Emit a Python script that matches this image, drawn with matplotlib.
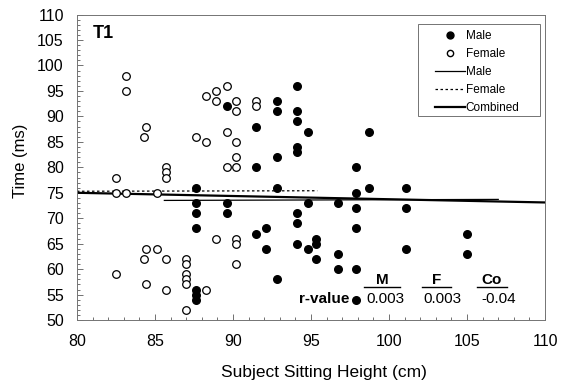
"""Reaction time vs subject sitting height (T1), male/female scatter with fits."""

import matplotlib

matplotlib.use("Agg")
import matplotlib.pyplot as plt
from matplotlib.lines import Line2D
from matplotlib.patches import Rectangle
from matplotlib.ticker import MultipleLocator

plt.rcParams["font.family"] = ["Liberation Sans", "DejaVu Sans"]

# data
male_height = [87.6, 87.6, 87.6, 87.6, 87.6, 87.6, 87.6,
               89.6, 89.6, 89.6,
               91.5, 91.5, 91.5,
               92.1, 92.1,
               92.8, 92.8, 92.8, 92.8, 92.8,
               94.1, 94.1, 94.1, 94.1, 94.1, 94.1, 94.1, 94.1,
               94.8, 94.8, 94.8,
               95.3, 95.3, 95.3,
               96.7, 96.7, 96.7,
               97.9, 97.9, 97.9, 97.9, 97.9, 97.9,
               98.7, 98.7,
               101.1, 101.1, 101.1,
               105.0, 105.0]
male_time = [76, 73, 71, 68, 56, 55, 54,
             92, 73, 71,
             88, 80, 67,
             68, 64,
             93, 91, 82, 76, 58,
             96, 91, 89, 84, 83, 71, 69, 65,
             87, 73, 64,
             66, 65, 62,
             73, 63, 60,
             80, 75, 72, 68, 60, 54,
             87, 76,
             76, 72, 64,
             67, 63]

female_height = [82.5, 82.5, 82.5,
                 83.15, 83.15, 83.15,
                 84.3, 84.3,
                 84.4, 84.4, 84.4,
                 85.1, 85.1,
                 85.7, 85.7, 85.7, 85.7, 85.7,
                 87.0, 87.0, 87.0, 87.0, 87.0, 87.0,
                 87.6,
                 88.3, 88.3, 88.3,
                 88.9, 88.9, 88.9,
                 89.6, 89.6, 89.6,
                 90.2, 90.2, 90.2, 90.2, 90.2, 90.2, 90.2, 90.2,
                 91.5, 91.5]
female_time = [78, 75, 59,
               98, 95, 75,
               86, 62,
               88, 64, 57,
               75, 64,
               80, 79, 78, 62, 56,
               62, 61, 59, 58, 57, 52,
               86,
               94, 85, 56,
               95, 93, 66,
               96, 87, 80,
               93, 91, 85, 82, 80, 66, 65, 61,
               93, 92]

# regression line end points (x range, fitted y)
male_fit_x = [85.6, 107.0]
male_fit_y = [73.5, 73.7]
female_fit_x = [80.0, 95.4]
female_fit_y = [75.3, 75.4]
comb_fit_x = [80.0, 110.0]
comb_fit_y = [75.0, 73.1]

r_labels = ["M", "F", "Co"]
r_values = ["0.003", "0.003", "-0.04"]
r_label_x = [99.55, 103.05, 106.6]
r_value_x = [99.75, 103.45, 107.0]


def main():
    fig = plt.figure(figsize=(5.66, 3.82), dpi=100)
    ax = fig.add_axes([0.136, 0.162, 0.827, 0.800])

    ax.plot(comb_fit_x, comb_fit_y, color="black", lw=1.6, zorder=2)
    ax.plot(male_fit_x, male_fit_y, color="black", lw=0.9, zorder=2)
    ax.plot(female_fit_x, female_fit_y, color="black", lw=0.9,
            linestyle=(0, (2, 2)), zorder=2)

    ax.scatter(male_height, male_time, s=30, color="black", zorder=3)
    ax.scatter(female_height, female_time, s=30, facecolor="white",
               edgecolor="black", linewidths=0.9, zorder=3)

    ax.set_xlim(80, 110)
    ax.set_ylim(50, 110)
    ax.xaxis.set_major_locator(MultipleLocator(5))
    ax.xaxis.set_minor_locator(MultipleLocator(1))
    ax.yaxis.set_major_locator(MultipleLocator(5))
    ax.yaxis.set_minor_locator(MultipleLocator(1))
    ax.tick_params(which="both", direction="in", color="0.35", width=0.6,
                   labelsize=11.5, top=False, right=False)
    ax.tick_params(which="major", length=4)
    ax.tick_params(which="minor", length=2)
    ax.tick_params(axis="x", which="major", pad=10)
    ax.tick_params(axis="y", which="major", pad=9.5)
    for sp in ax.spines.values():
        sp.set_color("0.45")
        sp.set_linewidth(0.7)

    ax.set_xlabel("Subject Sitting Height (cm)", fontsize=12.5)
    ax.xaxis.set_label_coords(0.528, -0.148)
    ax.set_ylabel("Time (ms)", fontsize=12)
    ax.yaxis.set_label_coords(-0.105, 0.52)

    ax.text(81.0, 106.3, "T1", fontsize=13, fontweight="bold", va="center")

    # r-value table
    ax.text(97.45, 54.1, "r-value", fontsize=11, fontweight="bold",
            ha="right", va="center")
    for lab, val, xl, xv in zip(r_labels, r_values, r_label_x, r_value_x):
        ax.text(xl, 57.9, lab, fontsize=11, fontweight="bold",
                ha="center", va="center")
        half = 1.15 if lab == "M" else 0.95
        ax.plot([xl - half, xl + half], [56.6, 56.6], color="black", lw=1.0)
        ax.text(xv, 54.1, val, fontsize=11, ha="center", va="center")

    # legend: frame drawn by hand to match the wide box
    ax.add_patch(Rectangle((0.729, 0.668), 0.260, 0.300,
                           transform=ax.transAxes, facecolor="white",
                           edgecolor="0.45", lw=0.7, zorder=4))
    handles = [
        Line2D([], [], marker="o", color="black", linestyle="none",
               markersize=5),
        Line2D([], [], marker="o", markerfacecolor="white",
               markeredgecolor="black", linestyle="none", markersize=4.5),
        Line2D([], [], color="black", lw=0.9),
        Line2D([], [], color="black", lw=0.9, linestyle=(0, (2, 2))),
        Line2D([], [], color="black", lw=1.6),
    ]
    leg = ax.legend(handles, ["Male", "Female", "Male", "Female", "Combined"],
                    loc="upper left", bbox_to_anchor=(0.765, 0.948),
                    fontsize=8.5, frameon=False, borderpad=0,
                    borderaxespad=0, handlelength=2.5, handletextpad=0.1,
                    labelspacing=0.5)
    leg.set_zorder(5)

    fig.savefig("out.png", dpi=100)


if __name__ == "__main__":
    main()
